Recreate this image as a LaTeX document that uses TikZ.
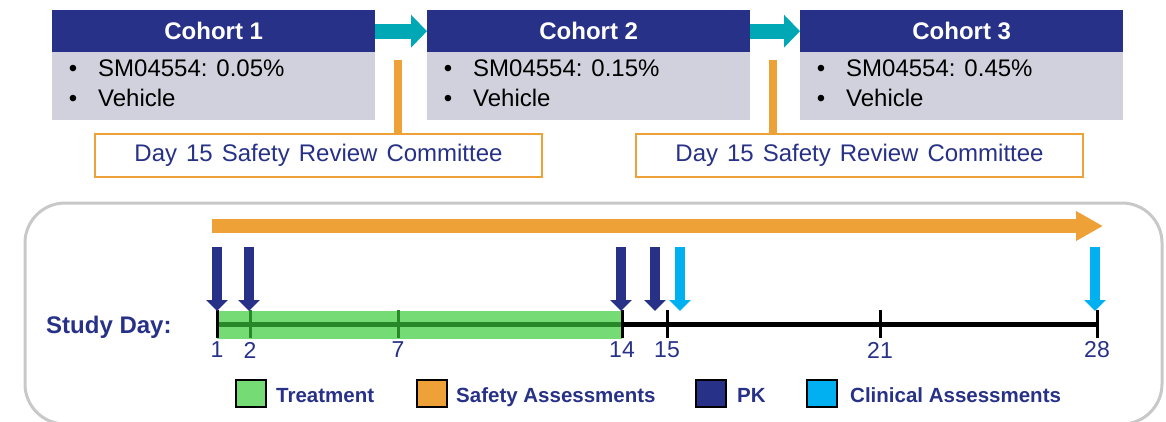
\documentclass[tikz,border=0pt]{standalone}
\usepackage{fontspec}
\setmainfont{Liberation Sans}
\usetikzlibrary{arrows.meta}

\definecolor{navy}{RGB}{39,49,135}
\definecolor{bodygray}{RGB}{208,209,220}
\definecolor{teal}{RGB}{0,168,181}
\definecolor{safety}{RGB}{238,161,54}
\definecolor{clin}{RGB}{0,176,240}
\definecolor{treat}{RGB}{117,219,117}
\definecolor{darkgreen}{RGB}{40,135,40}
\definecolor{framegray}{RGB}{200,200,200}

\tikzset{
  header/.style={fill=navy, text=white, font=\fontsize{24}{28}\selectfont\bfseries,
    minimum width=323pt, minimum height=42pt, inner sep=0pt, anchor=north west},
  cbody/.style={fill=bodygray, minimum width=323pt, minimum height=68pt,
    inner sep=0pt, anchor=north west},
  item/.style={font=\fontsize{24}{28}\selectfont, anchor=base west, inner sep=0pt},
  bullet/.style={font=\fontsize{24}{28}\selectfont, anchor=base, inner sep=0pt},
  src/.style={draw=safety, line width=2pt, fill=white, text=navy,
    font=\fontsize{24}{28}\selectfont, minimum width=447pt, minimum height=43pt,
    inner sep=0pt, anchor=north west},
  nextarrow/.style={teal, line width=15pt, -{Triangle[width=32pt,length=16pt]}},
  srcline/.style={safety, line width=8pt},
  pkarrow/.style={navy, line width=10pt, -{Triangle[width=21pt,length=11pt]}},
  clinarrow/.style={clin, line width=10pt, -{Triangle[width=21pt,length=11pt]}},
  daynum/.style={text=navy, font=\fontsize{23}{26}\selectfont, inner sep=0pt},
  tick/.style={line width=3pt},
  legbox/.style={draw=black, line width=1.5pt, minimum width=30pt,
    minimum height=27pt, inner sep=0pt, anchor=north west},
  legtext/.style={text=navy, font=\fontsize{20.5}{24}\selectfont\bfseries,
    anchor=base west, inner sep=0pt}
}

\begin{document}
\begin{tikzpicture}[x=1pt, y=-1pt]
\useasboundingbox (0,0) rectangle (1166,421);

% cohort boxes
\foreach \n/\x/\dose in {1/52/0.05, 2/427/0.15, 3/800/0.45}{
  \node[cbody] (b\n) at (\x,52) {};
  \node[header] (h\n) at (\x,10) {Cohort \n};
  \node[bullet] (bu\n a) at (\x+21,76) {•};
  \node[item] (t\n a) at (\x+46,76) {SM04554: \dose\%};
  \node[bullet] (bu\n b) at (\x+21,106) {•};
  \node[item] (t\n b) at (\x+46,106) {Vehicle};
}
\draw[nextarrow] (h1.east) -- (h2.west);
\draw[nextarrow] (h2.east) -- (h3.west);

% safety review committees
\node[src] (s1) at (94,133) {\spaceskip=9pt plus 1pt Day 15 Safety Review Committee};
\node[src] (s2) at (635,133) {\spaceskip=9pt plus 1pt Day 15 Safety Review Committee};
\coordinate (r1) at (398,60);
\coordinate (r2) at (773,60);
\draw[srcline] (r1) -- (r1 |- s1.north);
\draw[srcline] (r2) -- (r2 |- s2.north);

% timeline frame
\draw[framegray, line width=3pt, rounded corners=40pt] (25,203) rectangle (1162,424);

% safety assessment span
\coordinate (sa0) at (212,226);
\coordinate (sa1) at (1103,226);
\draw[safety, line width=14pt, -{Triangle[width=28pt,length=27pt]}] (sa0) -- (sa1);

% study days
\foreach \d/\x in {1/217, 2/250, 7/398, 14/622, 15/667, 21/880, 28/1097}{
  \coordinate (d\d) at (\x,324);
  \coordinate (d\d top) at (\x,310);
  \coordinate (d\d bot) at (\x,338);
  \node[daynum] (n\d) at (\x,350) {\d};
}
\fill[treat] (217,311) rectangle (622,339);
\draw[darkgreen, line width=5pt] (d1) -- (d14);
\draw[black, line width=5pt] (d14) -- (d28);
\foreach \d in {2,7}{
  \draw[tick, darkgreen] (d\d top) -- (d\d bot);
}
\foreach \d in {1,14,15,21,28}{
  \draw[tick, black] (d\d top) -- (d\d bot);
}
\node[text=navy, font=\fontsize{24}{28}\selectfont\bfseries, anchor=base west,
  inner sep=0pt] (sd) at (46,333) {Study Day:};

% sampling arrows
\foreach \name/\x in {p1/217, p2/249, p3/621, p4/655, c1/680, c2/1095}{
  \coordinate (\name top) at (\x,247);
  \coordinate (\name tip) at (\x,311);
}
\foreach \name in {p1,p2,p3,p4}{
  \draw[pkarrow] (\name top) -- (\name tip);
}
\foreach \name in {c1,c2}{
  \draw[clinarrow] (\name top) -- (\name tip);
}

% legend
\node[legbox, fill=treat] (l1) at (235,379) {};
\node[legtext] (lt1) at (276,402) {Treatment};
\node[legbox, fill=safety] (l2) at (416,379) {};
\node[legtext] (lt2) at (456,402) {Safety Assessments};
\node[legbox, fill=navy] (l3) at (695,379) {};
\node[legtext] (lt3) at (737,402) {PK};
\node[legbox, fill=clin] (l4) at (806,379) {};
\node[legtext] (lt4) at (850,402) {Clinical Assessments};
\end{tikzpicture}
\end{document}
